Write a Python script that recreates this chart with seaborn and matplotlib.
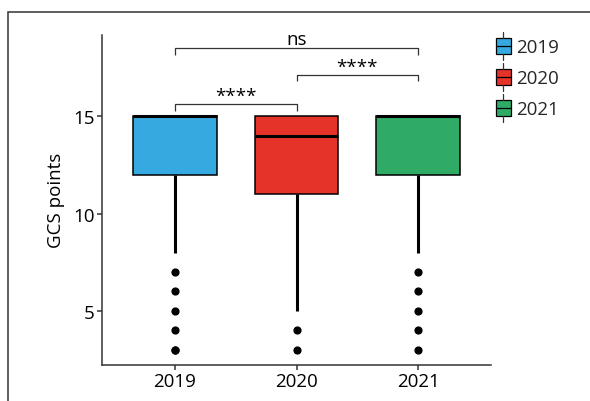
import numpy as np
import pandas as pd
import matplotlib
matplotlib.use("Agg")
import matplotlib.pyplot as plt
import seaborn as sns
from matplotlib.legend_handler import HandlerBase
from matplotlib.patches import Rectangle, Patch
from matplotlib.lines import Line2D

# ---- data ----
years = ["2019", "2020", "2021"]
colors = ["#36A9E1", "#E6332A", "#2FAB66"]
scores = [3, 4, 5, 6, 7, 8, 9, 10, 11, 12, 13, 14, 15]
counts_2019 = [2, 1, 1, 1, 1, 1, 1, 2, 2, 8, 3, 4, 30]
counts_2020 = [1, 1, 1, 1, 2, 2, 2, 3, 6, 4, 4, 8, 20]
counts_2021 = [1, 1, 1, 1, 1, 1, 2, 2, 3, 7, 3, 4, 32]
tick_vals = [5, 10, 15]
# comparisons: (group a, group b, label, bracket level, tip level)
comparisons = [(0, 1, "****", 15.63, 15.27),
               (1, 2, "****", 17.12, 16.81),
               (0, 2, "ns", 18.51, 18.15)]

all_counts = [counts_2019, counts_2020, counts_2021]
rows_year, rows_val = [], []
for y, cnt in zip(years, all_counts):
    vals = np.repeat(scores, cnt)
    rows_val.extend(vals.tolist())
    rows_year.extend([y] * len(vals))
df = pd.DataFrame({"year": rows_year, "gcs": rows_val})

sns.set_theme(style="ticks")
plt.rcParams["font.family"] = ["Open Sans", "DejaVu Sans"]

FS = 13.5
dark = "#333333"

fig = plt.figure(figsize=(5.9, 4.02), dpi=100)
ax = fig.add_axes([102 / 590, 1 - 365.7 / 402, (491 - 102) / 590, (365.7 - 35.7) / 402])

sns.boxplot(data=df, x="year", y="gcs", hue="year", order=years, hue_order=years,
            palette=colors, saturation=1, width=0.69, legend=False, showcaps=False,
            linecolor="black", linewidth=1.1,
            whiskerprops=dict(linewidth=2.2, color="black"),
            medianprops=dict(linewidth=2.2, color="black"),
            flierprops=dict(marker="o", markerfacecolor="black",
                            markeredgecolor="black", markersize=4.9),
            ax=ax)

ax.set_xlim(-0.6, 2.6)
ax.set_ylim(2.24, 19.19)
ax.set_yticks(tick_vals)
ax.set_yticklabels([str(v) for v in tick_vals])
ax.set_xlabel("")
ax.set_ylabel("GCS points", fontsize=FS, color="black", labelpad=6)
for s in ["top", "right"]:
    ax.spines[s].set_visible(False)
for s in ["left", "bottom"]:
    ax.spines[s].set_color(dark)
    ax.spines[s].set_linewidth(1.1)
ax.tick_params(length=3.5, width=1.1, color=dark, labelsize=FS,
               labelcolor="black", pad=2)

for a, b, lab, lev, tip in comparisons:
    ax.plot([a, a, b, b], [tip, lev, lev, tip], color=dark, lw=0.9,
            solid_capstyle="butt", clip_on=False)
    ax.text((a + b) / 2, lev + 0.18, lab, ha="center", va="baseline",
            fontsize=FS, color="black")


class BoxHandler(HandlerBase):
    def create_artists(self, legend, orig_handle, xdescent, ydescent,
                       width, height, fontsize, trans):
        x0, y0 = -xdescent, -ydescent
        r = Rectangle((x0, y0 + 0.2 * height), width, 0.6 * height,
                      facecolor=orig_handle.get_facecolor(), edgecolor="black",
                      lw=0.9, transform=trans)
        med = Line2D([x0, x0 + width], [y0 + 0.5 * height] * 2,
                     color="black", lw=0.9, transform=trans)
        w1 = Line2D([x0 + width / 2] * 2, [y0, y0 + 0.2 * height],
                    color=dark, lw=0.9, transform=trans)
        w2 = Line2D([x0 + width / 2] * 2, [y0 + 0.8 * height, y0 + height],
                    color=dark, lw=0.9, transform=trans)
        return [r, med, w1, w2]


handles = [Patch(facecolor=c, edgecolor="black") for c in colors]
fig.legend(handles, years, handler_map={Patch: BoxHandler()},
           loc="upper left", bbox_to_anchor=(495.7 / 590, 1 - 33 / 402),
           frameon=False, fontsize=FS, borderpad=0, borderaxespad=0,
           handlelength=0.8, handleheight=1.925, labelspacing=0.155,
           handletextpad=0.3)

frame = Rectangle((8.3 / 590, -0.5), 2.0, 0.5 + (1 - 13.3 / 402),
                  transform=fig.transFigure, fill=False, edgecolor=dark,
                  lw=1.1, clip_on=False)
fig.add_artist(frame)

fig.savefig("out.png", dpi=100)
